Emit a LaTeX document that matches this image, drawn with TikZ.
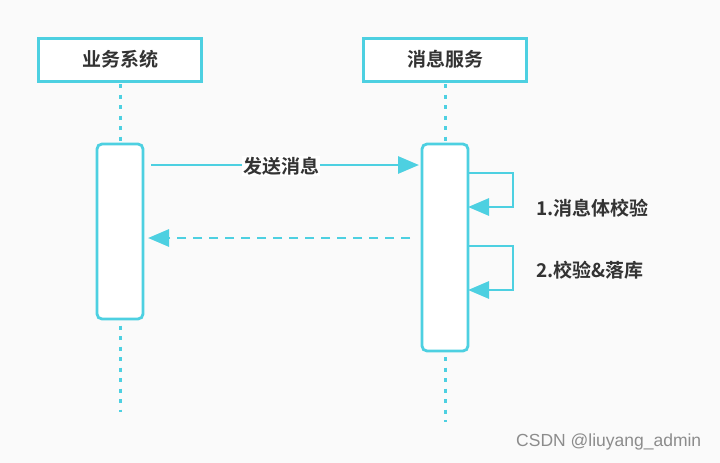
\documentclass[tikz,border=0pt]{standalone}
\usepackage{fontspec}
\setmainfont{Noto Sans CJK SC}[BoldFont={* Bold}]
\newfontfamily\wmfont{Liberation Sans}
\usetikzlibrary{arrows.meta}
\definecolor{cy}{HTML}{4DD0E1}
\definecolor{txt}{HTML}{333333}
\definecolor{bg}{HTML}{FAFAFA}
\tikzset{
  actor/.style={draw=cy,line width=3pt,fill=white,minimum width=163pt,minimum height=43pt,inner sep=0pt,font=\bfseries\fontsize{19}{19}\selectfont,text=txt},
  act/.style={draw=cy,line width=2.8pt,fill=white,rounded corners=5pt},
  life/.style={cy,line width=3pt,dash pattern=on 4pt off 6.5pt},
  msg/.style={cy,line width=2.8pt,-{Triangle[length=21pt,width=17pt]}},
  lbl/.style={font=\bfseries\fontsize{19}{19}\selectfont,text=txt,inner sep=1pt},
}
\begin{document}
\begin{tikzpicture}[x=1pt,y=-1pt]
\fill[bg] (0,0) rectangle (720,463);
\useasboundingbox (0,0) rectangle (720,463);
% lifelines
\coordinate (l1t) at (120,84);
\coordinate (l1b) at (120,412);
\coordinate (l2t) at (445,84);
\coordinate (l2b) at (445,422);
\draw[life] (l1t) -- (l1b);
\draw[life] (l2t) -- (l2b);
% actors
\node[actor] (a1) at (120,59.5) {业务系统};
\node[actor] (a2) at (445,59.5) {消息服务};
% activations
\draw[act] (97,144) rectangle (143,319);
\draw[act] (422,144) rectangle (468,351);
\coordinate (s1) at (151,165);
\coordinate (e1) at (419,165);
\coordinate (s2) at (410,238);
\coordinate (e2) at (148,238);
\draw[msg] (s1) -- (e1);
\node[lbl,fill=white] (m1) at (281,166) {发送消息};
\draw[msg,dash pattern=on 9pt off 7pt] (s2) -- (e2);
% self loops
\coordinate (a) at (468,173);
\coordinate (b) at (468,207);
\coordinate (c) at (468,246);
\coordinate (d) at (468,290);
\draw[msg] (a) -- (513,173) -- (513,207) -- (b);
\draw[msg] (c) -- (513,246) -- (513,290) -- (d);
\node[lbl,anchor=west] (t1) at (535,208) {1.消息体校验};
\node[lbl,anchor=west] (t2) at (535,270) {2.校验\&落库};
\node[anchor=west,text=black!45,font=\wmfont\fontsize{17.5}{17.5}\selectfont,inner sep=0pt] (wm) at (516,442) {CSDN @liuyang\_admin};
\end{tikzpicture}
\end{document}
